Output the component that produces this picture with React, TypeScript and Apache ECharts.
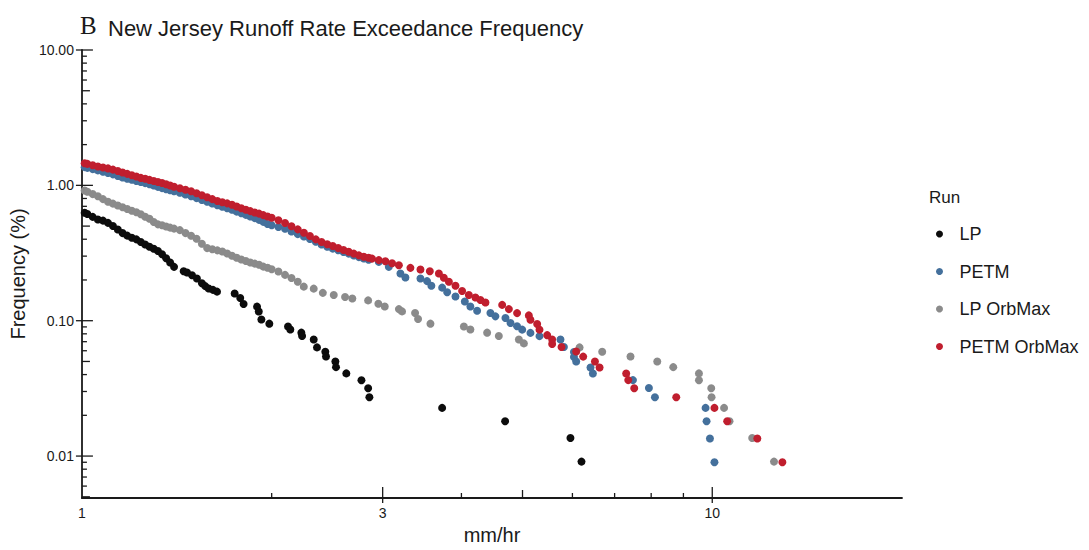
import React, { useEffect, useRef } from "react";
import * as echarts from "echarts";

const SANS = "'Liberation Sans', Arial, sans-serif";
const SERIF = "'Liberation Serif', 'Times New Roman', serif";

const X_MIN = 1;
const X_MAX = 20;
const Y_MIN = 0.0049;
const Y_MAX = 10;

const seriesNames = ["LP", "PETM", "LP OrbMax", "PETM OrbMax"];
const seriesColors = ["#0c0c0c", "#44709c", "#8b8b8b", "#c01e2e"];

// [mm/hr, frequency %]
const lp: number[][] = [
  [1.01, 0.628], [1.02, 0.614], [1.04, 0.585], [1.06, 0.56], [1.08, 0.549], [1.1, 0.528], [1.12, 0.501],
  [1.14, 0.472], [1.16, 0.444], [1.18, 0.425], [1.2, 0.41], [1.22, 0.399], [1.24, 0.382], [1.26, 0.366],
  [1.28, 0.352], [1.3, 0.34], [1.32, 0.327], [1.34, 0.31], [1.36, 0.289], [1.38, 0.269], [1.4, 0.25],
  [1.45, 0.232], [1.468, 0.227], [1.495, 0.217], [1.522, 0.205], [1.55, 0.189], [1.569, 0.18], [1.589, 0.173],
  [1.614, 0.169], [1.638, 0.164], [1.747, 0.159], [1.783, 0.147], [1.805, 0.133], [1.896, 0.127], [1.908, 0.117],
  [1.926, 0.102], [1.983, 0.0951], [2.123, 0.0907], [2.141, 0.0862], [2.229, 0.0816], [2.235, 0.0771],
  [2.332, 0.0726], [2.36, 0.0635], [2.433, 0.059], [2.439, 0.0544], [2.524, 0.0499], [2.53, 0.0454],
  [2.627, 0.0408], [2.776, 0.0363], [2.845, 0.0317], [2.858, 0.0272], [3.728, 0.0227], [4.692, 0.0181],
  [5.957, 0.0136], [6.202, 0.0091],
];

const petm: number[][] = [
  [1.01, 1.363], [1.02, 1.347], [1.04, 1.318], [1.06, 1.29], [1.08, 1.262], [1.1, 1.234], [1.12, 1.206],
  [1.14, 1.174], [1.16, 1.144], [1.18, 1.119], [1.2, 1.099], [1.22, 1.077], [1.24, 1.059], [1.26, 1.039],
  [1.28, 1.02], [1.3, 0.998], [1.32, 0.975], [1.34, 0.954], [1.36, 0.936], [1.38, 0.921], [1.4, 0.905],
  [1.43, 0.882], [1.46, 0.856], [1.49, 0.831], [1.52, 0.805], [1.55, 0.779], [1.58, 0.756], [1.61, 0.735],
  [1.64, 0.713], [1.67, 0.695], [1.7, 0.678], [1.73, 0.661], [1.76, 0.64], [1.79, 0.622], [1.82, 0.605],
  [1.85, 0.588], [1.88, 0.573], [1.91, 0.556], [1.94, 0.537], [1.97, 0.518], [2.0, 0.507], [2.05, 0.493],
  [2.1, 0.478], [2.15, 0.456], [2.2, 0.436], [2.25, 0.419], [2.3, 0.401], [2.35, 0.383], [2.4, 0.366],
  [2.45, 0.352], [2.5, 0.341], [2.55, 0.332], [2.6, 0.322], [2.65, 0.313], [2.7, 0.303], [2.75, 0.295],
  [2.8, 0.288], [2.85, 0.282], [2.958, 0.272], [3.068, 0.25], [3.201, 0.2233], [3.26, 0.2088], [3.444, 0.2053],
  [3.528, 0.1962], [3.584, 0.1815], [3.728, 0.1755], [3.797, 0.1622], [3.914, 0.1509], [4.05, 0.1386],
  [4.133, 0.1274], [4.236, 0.1184], [4.447, 0.1139], [4.529, 0.1077], [4.698, 0.1046], [4.785, 0.0962],
  [4.902, 0.091], [4.994, 0.0859], [5.147, 0.0813], [5.32, 0.0769], [5.744, 0.0726], [5.816, 0.0639],
  [6.033, 0.0587], [6.033, 0.054], [6.083, 0.0499], [6.41, 0.0451], [6.466, 0.0407], [7.485, 0.0364],
  [7.934, 0.0318], [8.11, 0.0272], [9.759, 0.0227], [9.795, 0.0181], [9.916, 0.0135], [10.08, 0.009],
];

const lpOrbMax: number[][] = [
  [1.01, 0.915], [1.02, 0.896], [1.04, 0.862], [1.06, 0.831], [1.08, 0.791], [1.1, 0.757], [1.12, 0.733],
  [1.14, 0.71], [1.16, 0.689], [1.18, 0.669], [1.2, 0.649], [1.22, 0.633], [1.24, 0.612], [1.26, 0.587],
  [1.28, 0.566], [1.3, 0.536], [1.32, 0.515], [1.34, 0.507], [1.36, 0.497], [1.38, 0.487], [1.4, 0.479],
  [1.43, 0.467], [1.46, 0.444], [1.49, 0.424], [1.52, 0.403], [1.55, 0.37], [1.58, 0.344], [1.61, 0.337],
  [1.64, 0.331], [1.67, 0.325], [1.7, 0.314], [1.73, 0.302], [1.76, 0.292], [1.79, 0.283], [1.82, 0.276],
  [1.85, 0.269], [1.88, 0.264], [1.91, 0.259], [1.94, 0.251], [1.97, 0.246], [2.0, 0.24], [2.05, 0.231],
  [2.1, 0.218], [2.15, 0.207], [2.2, 0.194], [2.249, 0.1785], [2.332, 0.1726], [2.411, 0.1606],
  [2.509, 0.155], [2.615, 0.1496], [2.685, 0.1459], [2.845, 0.1413], [2.953, 0.1336], [3.023, 0.1274],
  [3.183, 0.1218], [3.22, 0.1172], [3.377, 0.1139], [3.414, 0.1029], [3.572, 0.0951], [4.036, 0.0907],
  [4.133, 0.0862], [4.394, 0.0816], [4.585, 0.0771], [4.934, 0.0726], [5.025, 0.068], [6.158, 0.0635],
  [6.69, 0.059], [7.419, 0.0544], [8.179, 0.0499], [8.672, 0.0454], [9.526, 0.0408], [9.526, 0.0363],
  [9.963, 0.0317], [9.974, 0.0272], [10.44, 0.0227], [10.65, 0.0181], [11.57, 0.0136], [12.53, 0.0091],
];

const petmOrbMax: number[][] = [
  [1.01, 1.458], [1.02, 1.441], [1.04, 1.408], [1.06, 1.379], [1.08, 1.354], [1.1, 1.334], [1.12, 1.307],
  [1.14, 1.277], [1.16, 1.245], [1.18, 1.216], [1.2, 1.187], [1.22, 1.162], [1.24, 1.135], [1.26, 1.118],
  [1.28, 1.097], [1.3, 1.077], [1.32, 1.059], [1.34, 1.041], [1.36, 1.02], [1.38, 0.998], [1.4, 0.977],
  [1.43, 0.951], [1.46, 0.929], [1.49, 0.904], [1.52, 0.874], [1.55, 0.845], [1.58, 0.817], [1.61, 0.791],
  [1.64, 0.766], [1.67, 0.751], [1.7, 0.736], [1.73, 0.719], [1.76, 0.697], [1.79, 0.678], [1.82, 0.661],
  [1.85, 0.645], [1.88, 0.631], [1.91, 0.618], [1.94, 0.603], [1.97, 0.589], [2.0, 0.576], [2.05, 0.552],
  [2.1, 0.527], [2.15, 0.499], [2.2, 0.473], [2.25, 0.447], [2.3, 0.423], [2.35, 0.399], [2.4, 0.382],
  [2.45, 0.367], [2.5, 0.356], [2.55, 0.344], [2.6, 0.333], [2.65, 0.323], [2.7, 0.313], [2.75, 0.304],
  [2.8, 0.297], [2.85, 0.292], [2.886, 0.2875], [2.958, 0.2804], [3.03, 0.2748], [3.105, 0.2657],
  [3.183, 0.2569], [3.32, 0.2458], [3.444, 0.2388], [3.564, 0.2321], [3.684, 0.2233], [3.751, 0.2077],
  [3.821, 0.1942], [3.914, 0.1815], [4.01, 0.1658], [4.11, 0.1549], [4.21, 0.1483], [4.288, 0.1424],
  [4.367, 0.1363], [4.642, 0.1309], [4.757, 0.1218], [4.902, 0.1138], [5.117, 0.1095], [5.147, 0.1017],
  [5.275, 0.0946], [5.32, 0.0859], [5.472, 0.0782], [5.572, 0.0726], [5.572, 0.0672], [5.766, 0.0639],
  [6.083, 0.0593], [6.241, 0.0543], [6.514, 0.0499], [6.625, 0.0451], [7.303, 0.0407], [7.357, 0.0364],
  [7.52, 0.0317], [8.767, 0.0272], [10.08, 0.0227], [10.56, 0.0181], [11.79, 0.0135], [12.92, 0.009],
];

const seriesData = [lp, petm, lpOrbMax, petmOrbMax];

// axis decoration ticks and labels
const yMinorTicks = [0.006, 0.007, 0.008, 0.009, 0.02, 0.03, 0.04, 0.06, 0.07, 0.08, 0.09, 0.2, 0.3, 0.4, 0.6, 0.7, 0.8, 0.9, 2, 3, 4, 6, 7, 8, 9];
const yMidTicks = [0.005, 0.05, 0.5, 5];
const yMajorTicks = [0.01, 0.1, 1, 10];
const xMinorTicks = [2, 4, 6, 7, 8, 9];
const xMidTicks = [5];
const xMajorTicks = [3, 10];
const xTickLabels = [1, 3, 10];

export default function App() {
  const ref = useRef<HTMLDivElement>(null);

  useEffect(() => {
    if (!ref.current) return;
    const chart = echarts.init(ref.current, undefined, { renderer: "svg" });

    const tickData: number[][] = [
      ...yMinorTicks.map((v) => [X_MIN, v, 0]),
      ...yMidTicks.map((v) => [X_MIN, v, 1]),
      ...yMajorTicks.map((v) => [X_MIN, v, 2]),
      ...xMinorTicks.map((v) => [v, Y_MIN, 3]),
      ...xMidTicks.map((v) => [v, Y_MIN, 4]),
      ...xMajorTicks.map((v) => [v, Y_MIN, 5]),
      ...xTickLabels.map((v) => [v, Y_MIN, 6]),
    ];

    const tickStyle = { stroke: "#1a1a1a", lineWidth: 1.3 };

    const option: any = {
      animation: false,
      backgroundColor: "#ffffff",
      title: [
        { text: "B", left: 80, top: 13, padding: 0, textStyle: { fontFamily: SERIF, fontSize: 25, fontWeight: "normal", color: "#1a1a1a" } },
        { text: "New Jersey Runoff Rate Exceedance Frequency", left: 108, top: 17, padding: 0, textStyle: { fontFamily: SANS, fontSize: 22, fontWeight: "normal", color: "#1a1a1a" } },
        { text: "Run", left: 929, top: 189, padding: 0, textStyle: { fontFamily: SANS, fontSize: 17, fontWeight: "normal", color: "#1a1a1a" } },
      ],
      legend: {
        data: seriesNames,
        orient: "vertical",
        left: 936,
        top: 224,
        padding: 0,
        icon: "circle",
        itemWidth: 30,
        itemHeight: 7,
        itemGap: 17.5,
        textStyle: { fontFamily: SANS, fontSize: 18, color: "#1a1a1a", lineHeight: 20 },
      },
      grid: { left: 81, right: 187, top: 50, bottom: 48, containLabel: false },
      xAxis: {
        type: "log",
        logBase: 10,
        min: X_MIN,
        max: X_MAX,
        name: "mm/hr",
        nameLocation: "middle",
        nameGap: 27,
        nameTextStyle: { fontFamily: SANS, fontSize: 20, color: "#1a1a1a" },
        axisLine: { lineStyle: { color: "#1a1a1a", width: 1.8 } },
        axisTick: { show: false },
        splitLine: { show: false },
        axisLabel: { show: false },
      },
      yAxis: {
        type: "log",
        logBase: 10,
        min: Y_MIN,
        max: Y_MAX,
        name: "Frequency (%)",
        nameLocation: "middle",
        nameRotate: 90,
        nameGap: 52,
        nameTextStyle: { fontFamily: SANS, fontSize: 20, color: "#1a1a1a" },
        axisLine: { lineStyle: { color: "#1a1a1a", width: 1.8 } },
        axisTick: { show: false },
        splitLine: { show: false },
        axisLabel: {
          showMinLabel: false,
          fontFamily: SANS,
          fontSize: 14,
          color: "#1a1a1a",
          margin: 8,
          formatter: (v: number) => Number(v).toFixed(2),
        },
      },
      series: [
        ...seriesNames.map((name, i) => ({
          name,
          type: "scatter",
          data: seriesData[i],
          symbol: "circle",
          symbolSize: 8,
          itemStyle: { color: seriesColors[i], opacity: 1 },
          emphasis: { disabled: true },
        })),
        {
          name: "axisTicks",
          type: "custom",
          silent: true,
          clip: false,
          itemStyle: { color: "#1a1a1a" },
          data: tickData,
          renderItem: (_params: any, api: any) => {
            const kind = api.value(2);
            const p = api.coord([api.value(0), api.value(1)]);
            if (kind === 0) return { type: "line", shape: { x1: p[0], y1: p[1], x2: p[0] + 5, y2: p[1] }, style: tickStyle };
            if (kind === 1) return { type: "line", shape: { x1: p[0], y1: p[1], x2: p[0] + 8, y2: p[1] }, style: tickStyle };
            if (kind === 2) return { type: "line", shape: { x1: p[0] - 6, y1: p[1], x2: p[0] + 11, y2: p[1] }, style: tickStyle };
            if (kind === 3) return { type: "line", shape: { x1: p[0], y1: p[1], x2: p[0], y2: p[1] - 5 }, style: tickStyle };
            if (kind === 4) return { type: "line", shape: { x1: p[0], y1: p[1], x2: p[0], y2: p[1] - 8 }, style: tickStyle };
            if (kind === 5) return { type: "line", shape: { x1: p[0], y1: p[1] + 5, x2: p[0], y2: p[1] - 11 }, style: tickStyle };
            return {
              type: "text",
              x: p[0],
              y: p[1] + 8,
              style: {
                text: String(api.value(0)),
                fill: "#1a1a1a",
                font: `14px ${SANS}`,
                fontSize: 14,
                fontFamily: SANS,
                align: "center",
                verticalAlign: "top",
                textAlign: "center",
                textVerticalAlign: "top",
              },
            };
          },
        },
      ],
    };

    chart.setOption(option);
    return () => chart.dispose();
  }, []);

  return (
    <div
      ref={ref}
      style={{ position: "absolute", left: 0, top: 0, width: 1089, height: 550, background: "#fff" }}
    />
  );
}
